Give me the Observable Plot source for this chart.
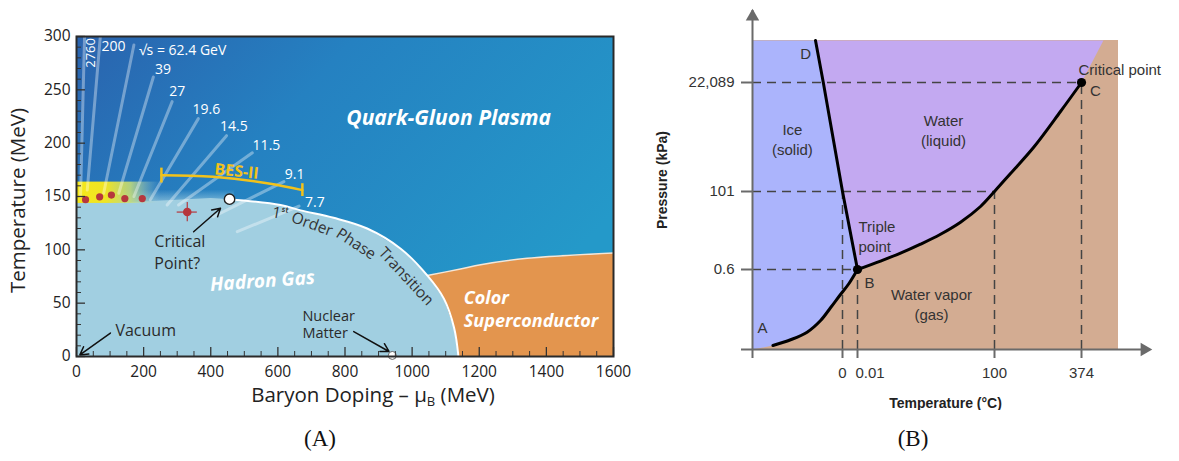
<!DOCTYPE html>
<html><head><meta charset="utf-8">
<script src="https://cdn.jsdelivr.net/npm/d3@7"></script>
<script src="https://cdn.jsdelivr.net/npm/@observablehq/plot@0.6"></script>
<style>
body{margin:0;background:#fff;width:1179px;height:461px;position:relative;overflow:hidden}
#a{position:absolute;left:0;top:0;width:640px}
#b{position:absolute;left:640px;top:0;width:539px}
.cap{position:absolute;top:426px;font-family:"Liberation Serif","DejaVu Serif",serif;font-size:23px;color:#111;transform:translateX(-50%)}
</style></head><body>
<div id="a"></div><div id="b"></div>
<div class="cap" style="left:320px">(A)</div>
<div class="cap" style="left:913px">(B)</div>
<script>
// ---------- Panel A data (QCD phase diagram) ----------
const muTicks = [0, 200, 400, 600, 800, 1000, 1200, 1400, 1600];
const tTicks = [0, 50, 100, 150, 200, 250, 300];
const muMinor = [50,100,150,250,300,350,450,500,550,650,700,750,850,900,950,1050,1100,1150,1250,1300,1350,1450,1500,1550];
const tMinor = [10,20,30,40,60,70,80,90,110,120,130,140,160,170,180,190,210,220,230,240,260,270,280,290];

const transition = [
  {mu:456,T:147.5},{mu:608,T:142},{mu:668,T:137},{mu:766,T:130},{mu:866,T:120},
  {mu:966,T:101},{mu:1045,T:76},{mu:1095,T:54},{mu:1125,T:27},{mu:1138,T:0}];
const hadronTop = [{mu:0,T:0},{mu:0,T:144},{mu:150,T:144.5},{mu:300,T:147},{mu:400,T:148.5}];
const csTop = [{mu:1045,T:76},{mu:1144,T:82},{mu:1204,T:86},{mu:1343,T:92},{mu:1600,T:97}];
const csRest = [{mu:1600,T:0},{mu:1138,T:0},{mu:1125,T:27},{mu:1095,T:54}];
const freezeOut = [{mu:27,T:147},{mu:69,T:149.7},{mu:104,T:151.3},{mu:144,T:148.1},{mu:196,T:148.1}];
const cpEstimate = [{mu:330,T:135.4,muErr:30,tErr:9}];
const criticalPoint = [{mu:456,T:147.5}];
const nuclearMatter = [{mu:941,T:1}];
const beamLines = [
  {label:"2760",mu1:12,T1:150,mu2:24,T2:300,lx:42,ly:284.6},
  {label:"200",mu1:32,T1:156,mu2:71,T2:300,lx:110,ly:291},
  {label:"√s = 62.4 GeV",mu1:81,T1:153,mu2:171,T2:292,lx:186,ly:287},
  {label:"39",mu1:126,T1:153,mu2:229,T2:262,lx:258,ly:269},
  {label:"27",mu1:171,T1:150,mu2:285,T2:239,lx:300,ly:248},
  {label:"19.6",mu1:220,T1:147,mu2:363,T2:223,lx:387,ly:232},
  {label:"14.5",mu1:270,T1:142,mu2:447,T2:207,lx:469,ly:216},
  {label:"11.5",mu1:304,T1:142,mu2:524,T2:191,lx:566,ly:198},
  {label:"9.1",mu1:408,T1:131,mu2:618,T2:164,lx:650,ly:171},
  {label:"7.7",mu1:479,T1:117,mu2:663,T2:141,lx:710,ly:144}];
const besCurve = [{mu:253,T:170},{mu:408,T:168.5},{mu:568,T:162.5},{mu:673,T:156}];
const besCaps = [{mu:253,T1:162.6,T2:176.6},{mu:673,T1:150,T2:162}];
const yellowBand = [{mu1:0,mu2:250,T1:143.5,T2:163.5}];
const crossGlow = [{mu1:0,mu2:470,T1:140,T2:156}];
const arrowsA = [{m1:349,t1:117,m2:429,t2:139},{m1:101,t1:22,m2:10,t2:1.5},{m1:826,t1:23.4,m2:931,t2:4.7}];
const ptLabels = [
  {text:"1ˢᵗ",mu:606,T:134,rot:10},{text:"Order",mu:702,T:124,rot:20},
  {text:"Phase",mu:833,T:105.5,rot:33},{text:"Transition",mu:982,T:75,rot:47}];
const regionLabelsA = [
  {text:"Quark-Gluon Plasma",mu:1109,T:223.5,size:21,rot:0},
  {text:"Hadron Gas",mu:554,T:70.5,size:19,rot:-4}];
const multiLabelsA = [
  {text:"Critical",mu:232,T:107},{text:"Point?",mu:232,T:87},
  {text:"Vacuum",mu:116,T:24.4},
  {text:"Nuclear",mu:673,T:38},{text:"Matter",mu:673,T:21.5}];
const csLabels = [{text:"Color",mu:1154,T:54.5},{text:"Superconductor",mu:1154,T:33.5}];

const W_A = 640, H_A = 410, ML = 76, MR = 27, MT = 36, MB = 54;
const fw = W_A - ML - MR, fh = H_A - MT - MB;

function defsA() {
  const defs = d3.create("svg:defs");
  const g = defs.append("linearGradient").attr("id","qgpGrad").attr("x1",0).attr("y1",0).attr("x2",1).attr("y2",0.55);
  g.append("stop").attr("offset","0%").attr("stop-color","#2a63ae");
  g.append("stop").attr("offset","40%").attr("stop-color","#2581c1");
  g.append("stop").attr("offset","100%").attr("stop-color","#2499c9");
  const y = defs.append("linearGradient").attr("id","yellowGrad").attr("x1",0).attr("y1",0).attr("x2",1).attr("y2",0);
  y.append("stop").attr("offset","0%").attr("stop-color","#f6e81a");
  y.append("stop").attr("offset","35%").attr("stop-color","#efe424");
  y.append("stop").attr("offset","65%").attr("stop-color","#c8df78").attr("stop-opacity",0.85);
  y.append("stop").attr("offset","100%").attr("stop-color","#a1cfe1").attr("stop-opacity",0);
  const gl = defs.append("linearGradient").attr("id","glowGrad").attr("x1",0).attr("y1",0).attr("x2",0).attr("y2",1);
  gl.append("stop").attr("offset","0%").attr("stop-color","#a1cfe1").attr("stop-opacity",0);
  gl.append("stop").attr("offset","100%").attr("stop-color","#a1cfe1").attr("stop-opacity",0.95);
  return defs.node();
}

const plotA = Plot.plot({
  width: W_A, height: H_A, marginLeft: ML, marginRight: MR, marginTop: MT, marginBottom: MB,
  x: {domain: [0, 1600]}, y: {domain: [0, 300]},
  style: {fontFamily: "Open Sans, Lato, sans-serif", color: "#222", background: "transparent"},
  marks: [
    defsA,
    Plot.frame({fill: "url(#qgpGrad)", stroke: "none"}),
    Plot.line(hadronTop.concat(transition), {x:"mu", y:"T", fill:"#a1cfe1", stroke:"none"}),
    Plot.rect(crossGlow, {x1:"mu1", x2:"mu2", y1:"T1", y2:"T2", fill:"url(#glowGrad)"}),
    Plot.line(csTop.concat(csRest), {x:"mu", y:"T", fill:"#e3954e", stroke:"none"}),
    Plot.line(csTop, {x:"mu", y:"T", stroke:"#f6e6d6", strokeWidth:1.5, curve:"catmull-rom"}),
    Plot.rect(yellowBand, {x1:"mu1", x2:"mu2", y1:"T1", y2:"T2", fill:"url(#yellowGrad)"}),
    Plot.link(beamLines, {x1:"mu1", y1:"T1", x2:"mu2", y2:"T2", stroke:"white", strokeOpacity:0.36, strokeWidth:3, strokeLinecap:"round"}),
    Plot.text(beamLines.slice(1).filter(d => !d.label.startsWith("√")), {x:"lx", y:"ly", text:"label", fill:"white", fontSize:14}),
    Plot.text(beamLines.filter(d => d.label.startsWith("√")), {x:"lx", y:"ly", text:"label", fill:"white", fontSize:14, textAnchor:"start"}),
    Plot.text(beamLines.slice(0,1), {x:"lx", y:"ly", text:"label", fill:"white", fontSize:13, rotate:-90}),
    Plot.line(transition, {x:"mu", y:"T", stroke:"white", strokeWidth:2, curve:"catmull-rom"}),
    Plot.line(besCurve, {x:"mu", y:"T", stroke:"#f2c21b", strokeWidth:2.5, curve:"natural"}),
    Plot.ruleX(besCaps, {x:"mu", y1:"T1", y2:"T2", stroke:"#f2c21b", strokeWidth:2.5}),
    Plot.text(["BES-II"], {x: () => 477, y: () => 173.5, fill:"#f2c21b", fontWeight:"bold", fontSize:16, rotate:6}),
    Plot.dot(freezeOut, {x:"mu", y:"T", r:3.6, fill:"#b6373d"}),
    Plot.ruleY(cpEstimate, {y:"T", x1: d => d.mu - d.muErr, x2: d => d.mu + d.muErr, stroke:"#b6373d", strokeWidth:1.2}),
    Plot.ruleX(cpEstimate, {x:"mu", y1: d => d.T - d.tErr, y2: d => d.T + d.tErr, stroke:"#b6373d", strokeWidth:1.2}),
    Plot.dot(cpEstimate, {x:"mu", y:"T", r:4.3, fill:"#b6373d"}),
    Plot.dot(criticalPoint, {x:"mu", y:"T", r:5.2, fill:"white", stroke:"#222", strokeWidth:1.4}),
    Plot.dot(nuclearMatter, {x:"mu", y:"T", r:4, fill:"white", stroke:"#666", strokeWidth:1}),
    Plot.arrow(arrowsA, {x1:"m1", y1:"t1", x2:"m2", y2:"t2", stroke:"#111", strokeWidth:1.5, headLength:9}),
    Plot.text(ptLabels, {x:"mu", y:"T", text:"text", rotate:"rot", fill:"#333", fontSize:15.5}),
    Plot.text(regionLabelsA, {x:"mu", y:"T", text:"text", rotate:"rot", fontSize:"size", fill:"white", fontWeight:"bold", fontStyle:"italic"}),
    Plot.text(csLabels, {x:"mu", y:"T", text:"text", fill:"white", fontWeight:"bold", fontStyle:"italic", fontSize:18, textAnchor:"start"}),
    Plot.text(multiLabelsA.slice(0,3), {x:"mu", y:"T", text:"text", fill:"#2a2a2a", fontSize:16, textAnchor:"start"}),
    Plot.text(multiLabelsA.slice(3), {x:"mu", y:"T", text:"text", fill:"#2a2a2a", fontSize:14.5, textAnchor:"start"}),
    Plot.ruleY(tTicks, {y: d => d, insetRight: fw - 9, stroke:"#333", strokeWidth:1.3}),
    Plot.ruleY(tMinor, {y: d => d, insetRight: fw - 5, stroke:"#333", strokeWidth:1}),
    Plot.ruleX(muTicks, {x: d => d, insetTop: fh - 9, stroke:"#333", strokeWidth:1.3}),
    Plot.ruleX(muMinor, {x: d => d, insetTop: fh - 5, stroke:"#333", strokeWidth:1}),
    Plot.frame({stroke:"#2a2a2a", strokeWidth:2}),
    Plot.axisX({ticks: muTicks, tickFormat: d => String(d), tickSize:0, tickPadding:9, fontSize:15.5, label:null, fill:"#222"}),
    Plot.axisY({ticks: tTicks, tickFormat: d => String(d), tickSize:0, tickPadding:6, fontSize:15.5, label:null, fill:"#222"}),
    Plot.text(["Temperature (MeV)"], {frameAnchor:"left", textAnchor:"middle", dx:-58, dy:4, rotate:-90, fontSize:20.5, fill:"#222"}),
    Plot.text(["Baryon Doping – μB (MeV)"], {frameAnchor:"bottom", textAnchor:"middle", lineAnchor:"middle", dx:28, dy:39, fontSize:20.5, fill:"#222"})
  ]
});
document.getElementById("a").appendChild(plotA);
d3.select(plotA).selectAll("text").each(function() {
  if (this.textContent === "Baryon Doping – μB (MeV)") {
    this.innerHTML = 'Baryon Doping – μ<tspan font-size="13" dy="4">B</tspan><tspan dy="-4"> (MeV)</tspan>';
  }
});

// ---------- Panel B data (water phase diagram) ----------
const tempBreaks = [-30, 0, 0.01, 100, 374, 450];       // °C (schematic, piecewise axis)
const pressBreaks = [0, 0.6, 101, 22089, 30000];        // kPa (schematic, piecewise axis)
const tempTicks = [0, 0.01, 100, 374];
const tempTickLabels = ["0", "0.01", "100", "374"];
const pressTicks = [0.6, 101, 22089];
const pressTickLabels = ["0.6", "101", "22,089"];
const fusion = [{T:-9,P:30000},{T:-6.4,P:22089},{T:0,P:101},{T:0.01,P:0.6}];
const sublimation = [{T:-23.2,P:0.03},{T:-17.3,P:0.073},{T:-11.8,P:0.13},{T:-7.3,P:0.2175},
  {T:-4,P:0.313},{T:-0.67,P:0.4125},{T:0.0042,P:0.493},{T:0.01,P:0.6}];
const vaporization = [{T:0.01,P:0.6},{T:16.8,P:11.5},{T:31.4,P:21.6},{T:46,P:33.2},{T:60.6,P:46},
  {T:75.2,P:61.5},{T:89.8,P:81.7},{T:100,P:101},{T:150.4,P:3732},{T:222.8,P:8976},{T:307.8,P:16237},{T:374,P:22089}];
const supercritEdge = [{T:419,P:30000}];
const specialPoints = [{T:0.01,P:0.6},{T:374,P:22089}];
const hDash = [{T:374,P:22089},{T:100,P:101},{T:0.01,P:0.6}];
const vDash = [{T:0,P:101},{T:0.01,P:0.6},{T:100,P:101},{T:374,P:22089}];
const centeredLabelsB = [
  {text:"D",T:-12.3,P:27741},
  {text:"C",T:402.8,P:20674},
  {text:"Ice\n(solid)",T:-16.7,P:10791},
  {text:"Water\n(liquid)",T:62.8,P:12606},
  {text:"B",T:8.8,P:0.51},
  {text:"A",T:-26.7,P:0.17},
  {text:"Water vapor\n(gas)",T:54,P:0.345}];
const startLabelsB = [
  {text:"Critical point",T:364.5,P:24727},
  {text:"Triple\npoint",T:0.74,P:44.4}];

const Tmin = tempBreaks[0], Tmax = tempBreaks[tempBreaks.length-1];
const Ptop = pressBreaks[pressBreaks.length-1];
const iceRegion = [{T:Tmin,P:Ptop}].concat(fusion, sublimation.slice().reverse(), [{T:Tmin,P:0}]);
const liquidRegion = fusion.concat(vaporization.slice(1), supercritEdge);
const tickLabel = d => tempTickLabels[tempTicks.indexOf(d)];

const dash = {stroke:"#444", strokeWidth:1.5, strokeDasharray:"9,6"};
const plotB = Plot.plot({
  width: 539, height: 410, marginLeft: 112, marginRight: 29, marginTop: 10, marginBottom: 61,
  x: {type:"linear", domain: tempBreaks, range: [112, 202, 217, 354, 441, 478]},
  y: {type:"linear", domain: pressBreaks, range: [349, 269, 191, 82, 40]},
  style: {fontFamily: "Liberation Sans, Arial, sans-serif", color: "#333", background: "transparent"},
  marks: [
    Plot.rect([0], {x1: () => Tmin, x2: () => Tmax, y1: () => 0, y2: () => Ptop, fill:"#d3ac92"}),
    Plot.line(iceRegion, {x:"T", y:"P", fill:"#abb4fc", stroke:"none"}),
    Plot.line(liquidRegion, {x:"T", y:"P", fill:"#c3a9f1", stroke:"none"}),
    Plot.ruleY(hDash, {y:"P", x1: () => Tmin, x2:"T", ...dash}),
    Plot.ruleX(vDash, {x:"T", y1: () => 0, y2:"P", ...dash}),
    Plot.line(fusion, {x:"T", y:"P", stroke:"black", strokeWidth:3}),
    Plot.line(sublimation, {x:"T", y:"P", stroke:"black", strokeWidth:3, curve:"catmull-rom"}),
    Plot.line(vaporization, {x:"T", y:"P", stroke:"black", strokeWidth:3, curve:"catmull-rom"}),
    Plot.dot(specialPoints, {x:"T", y:"P", r:4.6, fill:"black"}),
    Plot.text(centeredLabelsB, {x:"T", y:"P", text:"text", fontSize:15, fill:"#333", lineHeight:1.35}),
    Plot.text(startLabelsB, {x:"T", y:"P", text:"text", textAnchor:"start", fontSize:15, fill:"#333", lineHeight:1.35}),
    Plot.ruleX([Tmin], {stroke:"#6a6a6a", strokeWidth:2}),
    Plot.ruleY([0], {stroke:"#6a6a6a", strokeWidth:2}),
    Plot.dot([Tmin], {x: d => d, frameAnchor:"top", symbol:"triangle", r:5, fill:"#6a6a6a", stroke:"none", dy:6}),
    Plot.dot([0], {y: d => d, frameAnchor:"right", symbol:"triangle", rotate:90, r:5, fill:"#6a6a6a", stroke:"none", dx:-6}),
    Plot.axisX({ticks: [Tmin].concat(tempTicks), tickFormat: () => "", tickSize:9, label:null, stroke:"#6a6a6a", strokeWidth:2}),
    Plot.text(tempTicks.filter(d => d !== 0.01), {x: d => d, text: tickLabel, frameAnchor:"bottom", lineAnchor:"top", dy:18, fontSize:15, fill:"#333"}),
    Plot.text([0.01], {x: d => d, text: tickLabel, frameAnchor:"bottom", lineAnchor:"top", textAnchor:"start", dx:-2, dy:18, fontSize:15, fill:"#333"}),
    Plot.axisY({ticks: [0].concat(pressTicks), tickFormat: d => pressTickLabels[pressTicks.indexOf(d)] ?? "",
      tickSize:11, tickPadding:7, fontSize:15, label:null, stroke:"#6a6a6a", strokeWidth:2, fill:"#333"}),
    Plot.text(["Pressure (kPa)"], {frameAnchor:"left", textAnchor:"middle", dx:-90, rotate:-90, fontSize:14, fontWeight:"bold", fill:"#222"}),
    Plot.text(["Temperature (°C)"], {frameAnchor:"bottom", textAnchor:"middle", lineAnchor:"middle", dx:-6, dy:54, fontSize:14, fontWeight:"bold", fill:"#222"})
  ]
});
document.getElementById("b").appendChild(plotB);
</script>
</body></html>
